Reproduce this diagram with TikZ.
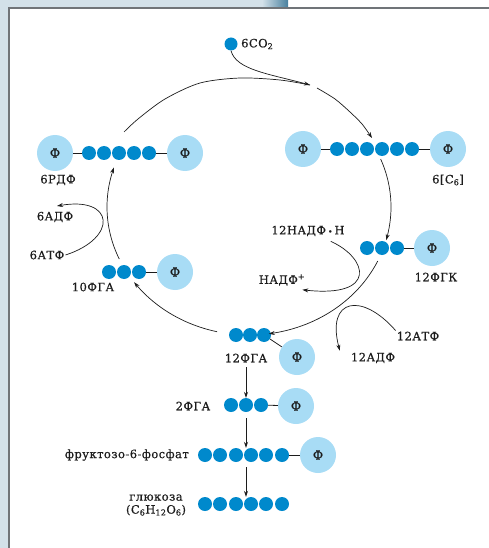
\documentclass[tikz,border=0pt]{standalone}
\usepackage{fontspec}
\setmainfont{DejaVu Serif}[LetterSpace=4,FakeBold=0.6]
\usetikzlibrary{arrows.meta,calc}
\definecolor{dotblue}{RGB}{0,137,204}
\definecolor{phblue}{RGB}{168,220,245}
\definecolor{ink}{RGB}{28,28,28}
\definecolor{framebg}{RGB}{211,225,233}
\definecolor{framedark}{RGB}{72,128,158}
\definecolor{framegray}{RGB}{112,116,120}
\begin{document}
\begin{tikzpicture}[x=1pt,y=-1pt,
  carbon/.style={circle,fill=dotblue,minimum size=14pt,inner sep=0pt},
  phos/.style={circle,fill=phblue,minimum size=36pt,inner sep=0pt,font=\fontsize{12.5}{13}\selectfont,text=ink},
  lbl/.style={font=\fontsize{11.5}{13}\selectfont,text=ink,inner sep=1pt},
  bond/.style={draw=ink,line width=0.8pt},
  arr/.style={draw=ink,line width=0.7pt,-{Stealth[length=6pt,width=4pt]}},
  cyc/.style={draw=ink,line width=0.7pt}]
\useasboundingbox (0,0) rectangle (489,548);
% frame
\fill[framebg] (0,0) rectangle (8,548);
\fill[framebg] (0,0) rectangle (264,7);
\shade[left color=framebg,right color=framedark] (262,0) rectangle (288,7);
\draw[framegray,line width=1.8pt] (9,548) -- (9,7.8) -- (489,7.8);

% CO2
\node[carbon,minimum size=13pt] (co2) at (231,44) {};
\node[lbl,anchor=west] (co2l) at (240,44) {6CO\textsubscript{2}};

% 6RDF row
\node[phos] (r1p) at (55,153) {Ф};
\foreach \i/\x in {1/89,2/104,3/119,4/134,5/149} \node[carbon] (r1d\i) at (\x,153) {};
\node[phos] (r1q) at (185,153) {Ф};
\draw[bond] (r1p) -- (r1d1);
\draw[bond] (r1d5) -- (r1q);

% 6[C6] row
\node[phos] (r2p) at (303,149) {Ф};
\foreach \i/\x in {1/337,2/352,3/367,4/382,5/397,6/412} \node[carbon] (r2d\i) at (\x,149) {};
\node[phos] (r2q) at (448,149) {Ф};
\draw[bond] (r2p) -- (r2d1);
\draw[bond] (r2d6) -- (r2q);

% 12FGK
\foreach \i/\x in {1/367,2/382,3/397} \node[carbon] (r3d\i) at (\x,248) {};
\node[phos] (r3q) at (432,248) {Ф};
\draw[bond] (r3d3) -- (r3q);

% 10FGA
\foreach \i/\x in {1/109,2/124,3/139} \node[carbon] (r4d\i) at (\x,272) {};
\node[phos] (r4q) at (175,272) {Ф};
\draw[bond] (r4d3) -- (r4q);

% 12FGA
\foreach \i/\x in {1/236,2/250,3/264} \node[carbon] (r5d\i) at (\x,335) {};
\node[phos] (r5q) at (297,357) {Ф};
\draw[bond] (r5d3) -- (r5q);

% 2FGA
\foreach \i/\x in {1/231,2/246,3/261} \node[carbon] (g\i) at (\x,405) {};
\node[phos] (gq) at (296,406) {Ф};
\draw[bond] (g3) -- (gq);

% fructose
\foreach \i/\x in {1/205,2/220,3/236,4/251,5/266,6/282} \node[carbon] (f\i) at (\x,455) {};
\node[phos] (fq) at (318,455) {Ф};
\draw[bond] (f6) -- (fq);

% glucose
\foreach \i/\x in {1/205,2/220,3/236,4/251,5/266,6/282} \node[carbon] (h\i) at (\x,504) {};

% labels
\node[lbl] (l6rdf) at (58,180) {6РДФ};
\node[lbl] (l6c6) at (448,180) {6[C\textsubscript{6}]};
\node[lbl] (l12fgk) at (436,277) {12ФГК};
\node[lbl] (l10fga) at (93,287) {10ФГА};
\node[lbl] (l6adf) at (55,217) {6АДФ};
\node[lbl] (l6atf) at (47,255) {6АТФ};
\node[lbl] (lnadph) at (308,231) {12НАДФ\,{\fontsize{8}{8}\selectfont•}\,Н};
\node[lbl] (lnadp) at (282,280) {НАДФ\textsuperscript{+}};
\node[lbl] (l12atf) at (418,336) {12АТФ};
\node[lbl] (l12adf) at (373,358) {12АДФ};
\node[lbl] (l12fga) at (246,358) {12ФГА};
\node[lbl] (l2fga) at (193,406) {2ФГА};
\node[lbl,anchor=east] (lfru) at (190,455) {фруктозо-6-фосфат};
\node[lbl,align=center,font=\fontsize{11.5}{13}\selectfont] (lglu) at (156,505) {глюкоза\\(C\textsubscript{6}H\textsubscript{12}O\textsubscript{6})};

% Calvin cycle arcs
\draw[arr] plot[domain=103:144,samples=30,smooth] ({249+142*cos(\x)},{207+128*sin(\x)});
\draw[arr] plot[domain=156:198,samples=30,smooth] ({249+142*cos(\x)},{207+128*sin(\x)});
\coordinate (cycjoin) at (310,85);
\draw[cyc] plot[smooth] coordinates {(124,132) (138,119) (165,99) (200,83) (240,78) (280,80) (cycjoin)};
\draw[arr] plot[smooth] coordinates {(317,88) (335,99) (350,112) (362,124) (372,138)};
\draw[arr] plot[domain=-22:15,samples=30,smooth] ({249+142*cos(\x)},{207+128*sin(\x)});
\draw[arr] plot[domain=25:82,samples=30,smooth] ({249+142*cos(\x)},{207+128*sin(\x)});

% CO2 input
\draw[arr] (co2.south) .. controls (236,70) and (270,74) .. (cycjoin);

% side reactions
\coordinate (adftip) at (57,206);
\draw[arr] (l6atf.east) .. controls (118,238) and (115,196) .. (adftip);
\draw[arr] ([shift={(-15,4)}]lnadph.south east) .. controls (368,258) and (378,298) .. ([shift={(-4,3)}]lnadp.south east);
\draw[arr] (l12atf.north west) .. controls (362,292) and (326,298) .. ([shift={(-10,-1)}]l12adf.north west);

% downward steps
\draw[arr] ([yshift=-4pt]l12fga.south) -- (g2.north);
\draw[arr] ([yshift=-6pt]g2.south) -- (g2.south |- f4.north);
\coordinate (fstart) at ($(g2.south |- f4.south)+(0,5)$);
\draw[arr] (fstart) -- (g2.south |- h4.north);
\end{tikzpicture}
\end{document}
